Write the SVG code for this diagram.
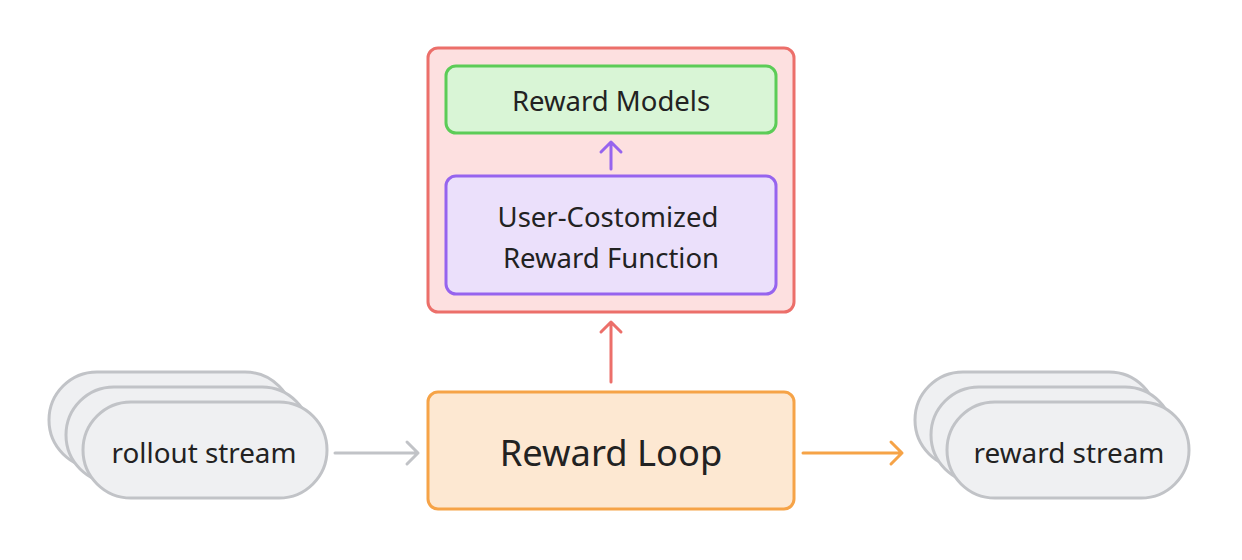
<svg xmlns="http://www.w3.org/2000/svg" width="1242" height="560" viewBox="0 0 1242 560">
<style>
text{font-family:"Source Sans Pro","Noto Sans","Open Sans",sans-serif;fill:#222;text-anchor:middle;dominant-baseline:central}
.pill{fill:#eff0f2;stroke:#c1c3c7;stroke-width:3}
.c{fill:none;stroke-width:3;stroke-linecap:round;stroke-linejoin:round}
</style>
<rect width="1242" height="560" fill="#fff"/>
<g id="reward-container">
<rect x="428" y="48" width="366" height="264" rx="10" fill="#fde0e0" stroke="#ec6f6a" stroke-width="3"/>
</g>
<g id="reward-models">
<rect x="446" y="66" width="330" height="67" rx="10" fill="#d9f5d6" stroke="#5ccc57" stroke-width="3"/>
<text x="611" y="100" font-size="27.5">Reward Models</text>
</g>
<g id="reward-function">
<rect x="446" y="176" width="330" height="118" rx="10" fill="#ebe0fb" stroke="#9664ee" stroke-width="3"/>
<text x="608" y="216" font-size="27.5">User-Costomized</text>
<text x="611" y="257" font-size="27.5">Reward Function</text>
</g>
<g id="reward-loop">
<rect x="428" y="392" width="366" height="117" rx="10" fill="#fde8d2" stroke="#f6a347" stroke-width="3"/>
<text x="611" y="452" font-size="36.3">Reward Loop</text>
</g>
<g id="rollout-stream">
<rect class="pill" x="49" y="372" width="244" height="96" rx="48"/>
<rect class="pill" x="66" y="387" width="244" height="96" rx="48"/>
<rect class="pill" x="83" y="402" width="244" height="96" rx="48"/>
<text x="204" y="452" font-size="27.8">rollout stream</text>
</g>
<g id="reward-stream">
<rect class="pill" x="915" y="372" width="242" height="96" rx="48"/>
<rect class="pill" x="931" y="387" width="242" height="96" rx="48"/>
<rect class="pill" x="947" y="402" width="242" height="96" rx="48"/>
<text x="1069" y="452" font-size="27.9">reward stream</text>
</g>
<g id="connectors">
<path class="c" stroke="#9664ee" d="M611 169V142M601 152L611 142L621 152"/>
<path class="c" stroke="#ec6f6a" d="M611 382V322M601 332L611 322L621 332"/>
<path class="c" stroke="#c1c3c7" d="M335 453H418M407 442L418 453L407 464"/>
<path class="c" stroke="#f6a347" d="M803 453H902M891 442L902 453L891 464"/>
</g>
</svg>
